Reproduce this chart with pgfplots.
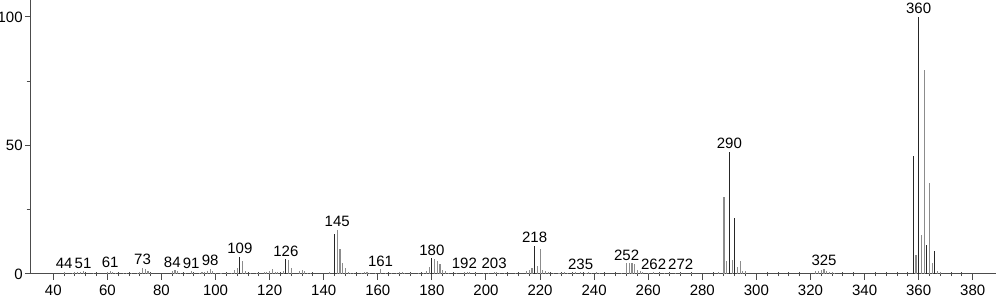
\documentclass[border=0pt]{standalone}
\usepackage{pgfplots}
\pgfplotsset{compat=1.18}
\usepackage{fontspec}
\setmainfont{Liberation Sans}
\pgfplotstableread{
x y
109 6.7
126 5.7
144 15.4
180 6.1
218 10.9
290 47.5
292 21.7
358 46.0
360 100
363 11.3
366 8.9
}\darkpeaks
\pgfplotstableread{
x y
44 0.8
47 0.4
48 0.6
49 0.7
50 0.8
51 1.0
55 0.5
60 0.8
61 1.2
62 0.7
63 0.5
66 0.4
67 0.5
69 0.4
71 0.5
72 0.8
73 2.5
74 2.0
75 1.2
76 0.5
84 1.3
85 1.4
86 1.0
87 0.5
89 0.3
91 1.0
92 0.3
94 0.4
95 0.8
96 0.6
97 1.1
98 2.0
99 1.0
100 0.4
102 0.3
104 0.3
106 0.4
107 1.5
108 2.3
110 5.0
111 1.0
113 0.3
115 0.5
116 0.4
118 0.6
119 0.8
120 1.2
121 1.8
122 0.7
123 0.6
125 1.0
127 5.5
128 2.2
131 1.0
132 1.5
133 1.0
134 0.5
135 0.5
142 0.8
145 17.1
146 9.7
147 4.4
148 2.2
149 0.8
150 0.5
151 0.4
154 0.5
155 0.8
156 0.7
157 0.5
159 0.4
161 1.8
163 0.4
165 0.5
167 0.4
168 0.6
169 0.6
170 0.5
172 0.4
175 0.3
177 0.5
178 1.2
179 2.8
181 5.9
182 5.2
183 3.8
184 1.4
185 1.0
186 0.4
189 0.3
192 0.8
193 0.8
194 0.6
196 0.3
199 0.3
201 0.5
203 0.8
204 0.6
205 0.5
207 0.4
211 0.3
215 1.0
216 1.5
217 2.2
219 3.1
220 9.6
221 1.5
222 1.2
223 0.6
225 0.3
227 0.5
228 0.5
229 0.6
230 0.4
232 0.5
233 0.6
235 0.7
237 0.5
238 0.6
239 0.5
241 0.6
242 0.5
250 0.5
252 4.2
253 4.2
254 4.2
255 4.0
256 1.5
257 1.3
258 0.7
260 0.4
262 0.6
264 0.5
266 0.4
268 0.5
270 0.4
272 0.5
276 0.3
286 0.8
288 30.0
289 5.2
291 5.5
293 2.9
294 5.0
295 1.0
296 1.0
322 1.0
323 1.2
324 1.5
325 2.0
326 1.2
327 0.8
328 0.8
329 0.4
359 7.3
361 15.0
362 79.3
364 35.3
365 4.3
367 1.0
368 0.7
}\graypeaks
\pgfplotstableread{
x y lab
44 0.8 44
51 1.0 51
61 1.2 61
73 2.5 73
84 1.4 84
91 1.0 91
98 2.0 98
109 6.7 109
126 5.7 126
145 17.1 145
161 1.8 161
180 6.1 180
192 0.8 192
203 0.8 203
218 10.9 218
235 0.7 235
252 4.2 252
262 0.6 262
272 0.5 272
290 47.5 290
325 2.0 325
360 100 360
}\labels
\begin{document}
\begin{tikzpicture}
\path[use as bounding box] (-15.5pt,-12.5pt) rectangle (482.5pt,137pt);
\begin{axis}[
  scale only axis, width=482.5pt, height=137pt,
  at={(0,0)}, anchor=south west,
  xmin=31.75, xmax=388.6, ymin=0, ymax=106.6,
  axis x line=bottom, axis y line=left,
  axis line style={-, draw=black!70, line width=0.5pt},
  xtick={40,60,...,380}, minor x tick num=4,
  ytick={0,50,100}, minor y tick num=1,
  tick align=outside, major tick length=3pt, minor tick length=2.2pt,
  tick style={black!70, line width=0.5pt},
  minor x tick style={yshift=1.1pt},
  ticklabel style={font=\fontsize{7.5}{8}\selectfont, inner sep=1pt},
  xticklabel style={yshift=-1.5pt},
  /pgf/number format/assume math mode=true,
  clip=false,
]
\addplot[ycomb, mark=none, draw=black!45, line width=0.55pt] table[x=x,y=y] {\graypeaks};
\addplot[ycomb, mark=none, draw=black!85, line width=0.55pt] table[x=x,y=y] {\darkpeaks};
\addplot[draw=none, mark=none, nodes near coords, point meta=explicit symbolic,
  nodes near coords style={anchor=south, inner sep=1pt, yshift=0.3pt, font=\fontsize{7.5}{8}\selectfont, text=black}]
  table[x=x,y=y,meta=lab] {\labels};
\end{axis}
\end{tikzpicture}
\end{document}
